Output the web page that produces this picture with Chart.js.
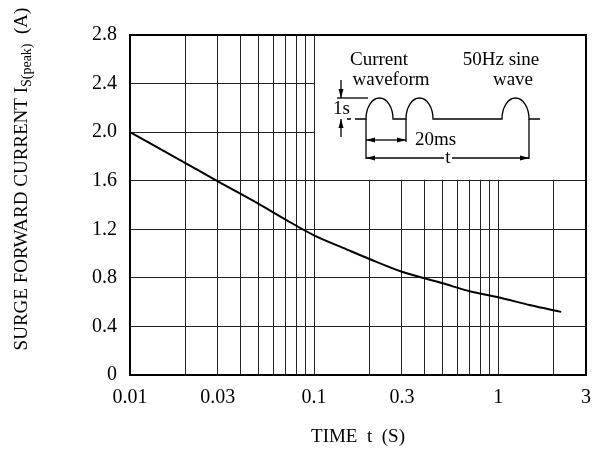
<!DOCTYPE html>
<html>
<head>
<meta charset="utf-8">
<script src="https://cdn.jsdelivr.net/npm/chart.js@4.4.0/dist/chart.umd.min.js"></script>
<style>
  html, body { margin: 0; padding: 0; background: #fff; }
  #wrap { width: 613px; height: 455px; }
</style>
</head>
<body>
<div id="wrap"><canvas id="surge-chart"></canvas></div>
<script>
// data
const timeS = [0.01, 0.02, 0.03, 0.05, 0.07, 0.1, 0.15, 0.2, 0.3, 0.5, 0.7, 1, 1.5, 2.2];
const surgeA = [2.0, 1.745, 1.595, 1.41, 1.28, 1.15, 1.035, 0.955, 0.85, 0.755, 0.69, 0.64, 0.575, 0.52];

const xGridTicks = [0.01, 0.02, 0.03, 0.04, 0.05, 0.06, 0.07, 0.08, 0.09,
                    0.1, 0.2, 0.3, 0.4, 0.5, 0.6, 0.7, 0.8, 0.9, 1, 2, 3];
const xTickLabels = ['0.01', '0.03', '0.1', '0.3', '1', '3'];
const yTicks = [0, 0.4, 0.8, 1.2, 1.6, 2.0, 2.4, 2.8];

const SERIF = "'Liberation Serif', 'Times New Roman', serif";
Chart.defaults.font.family = SERIF;
Chart.defaults.font.size = 20;
Chart.defaults.color = '#000';

function arrow(ctx, x1, y1, x2, y2) {
  // line with a filled head at (x2, y2)
  const a = Math.atan2(y2 - y1, x2 - x1);
  ctx.beginPath();
  ctx.moveTo(x1, y1);
  ctx.lineTo(x2, y2);
  ctx.stroke();
  ctx.beginPath();
  ctx.moveTo(x2, y2);
  ctx.lineTo(x2 - 9 * Math.cos(a) + 2.5 * Math.sin(a), y2 - 9 * Math.sin(a) - 2.5 * Math.cos(a));
  ctx.lineTo(x2 - 9 * Math.cos(a) - 2.5 * Math.sin(a), y2 - 9 * Math.sin(a) + 2.5 * Math.cos(a));
  ctx.closePath();
  ctx.fill();
}

const decor = {
  id: 'decor',
  beforeDatasetsDraw(chart) {
    const { ctx, chartArea, scales } = chart;
    // blank box for the inset diagram
    const x0 = scales.x.getPixelForValue(0.1) + 1;
    const y1 = scales.y.getPixelForValue(1.6) - 1;
    ctx.save();
    ctx.fillStyle = '#fff';
    ctx.fillRect(x0, chartArea.top, chartArea.right - x0, y1 - chartArea.top);
    ctx.restore();
  },
  afterDraw(chart) {
    const { ctx, chartArea } = chart;
    const L = chartArea.left, T = chartArea.top;
    ctx.save();
    ctx.strokeStyle = '#000';
    ctx.fillStyle = '#000';

    // frame
    ctx.lineWidth = 2;
    ctx.strokeRect(chartArea.left, chartArea.top, chartArea.right - chartArea.left, chartArea.bottom - chartArea.top);

    // axis titles
    ctx.font = '19px ' + SERIF;
    ctx.textBaseline = 'middle';
    ctx.textAlign = 'center';
    ctx.fillText('TIME  t  (S)', (chartArea.left + chartArea.right) / 2, 437);

    const partA = 'SURGE FORWARD CURRENT I';
    const partSub = 'S(peak)';
    const partB = '  (A)';
    ctx.font = '19px ' + SERIF;
    const wA = ctx.measureText(partA).width;
    const wB = ctx.measureText(partB).width;
    ctx.font = '14px ' + SERIF;
    const wS = ctx.measureText(partSub).width;
    const total = wA + wS + wB;
    ctx.translate(20, 179);
    ctx.rotate(-Math.PI / 2);
    ctx.textAlign = 'left';
    ctx.textBaseline = 'alphabetic';
    let px = -total / 2;
    ctx.font = '19px ' + SERIF;
    ctx.fillText(partA, px, 7);
    px += wA;
    ctx.font = '14px ' + SERIF;
    ctx.fillText(partSub, px, 11);
    px += wS;
    ctx.font = '19px ' + SERIF;
    ctx.fillText(partB, px, 7);
    ctx.setTransform(1, 0, 0, 1, 0, 0);
    ctx.restore();

    // inset: current waveform sketch
    ctx.save();
    ctx.strokeStyle = '#000';
    ctx.fillStyle = '#000';
    ctx.lineWidth = 1.3;
    const base = T + 84;       // waveform baseline
    const h = 21, w = 27;
    const humps = [L + 236, L + 276, L + 372];  // left edges of the humps
    ctx.beginPath();
    ctx.moveTo(L + 217, base);
    ctx.lineTo(L + 221, base);
    ctx.moveTo(L + 225, base);
    humps.forEach(hx => {
      ctx.lineTo(hx, base);
      ctx.ellipse(hx + w / 2, base, w / 2, h, 0, Math.PI, 2 * Math.PI);
    });
    ctx.lineTo(L + 410, base);
    ctx.stroke();

    // 1s marker
    ctx.beginPath();
    ctx.moveTo(L + 207, base - h);
    ctx.lineTo(humps[0] + 2, base - h);
    ctx.stroke();
    arrow(ctx, L + 211, base - h - 18, L + 211, base - h);
    arrow(ctx, L + 211, base + 18, L + 211, base);

    // extension lines
    ctx.beginPath();
    ctx.moveTo(humps[0], base); ctx.lineTo(humps[0], base + 40);
    ctx.moveTo(humps[1], base); ctx.lineTo(humps[1], base + 23);
    ctx.moveTo(humps[2] + w, base); ctx.lineTo(humps[2] + w, base + 40);
    ctx.stroke();

    // 20ms and t dimensions
    const y20 = base + 21, yt = base + 39;
    arrow(ctx, (humps[0] + humps[1]) / 2, y20, humps[0], y20);
    arrow(ctx, (humps[0] + humps[1]) / 2, y20, humps[1], y20);
    arrow(ctx, (humps[0] + humps[2] + w) / 2, yt, humps[0], yt);
    arrow(ctx, (humps[0] + humps[2] + w) / 2, yt, humps[2] + w, yt);

    ctx.font = '19px ' + SERIF;
    ctx.textBaseline = 'middle';
    ctx.textAlign = 'left';
    ctx.fillText('1s', L + 203, base - 10);
    ctx.fillText('20ms', L + 285, y20);
    ctx.textAlign = 'center';
    ctx.fillStyle = '#fff';
    ctx.fillRect(L + 314, yt - 8, 8, 10);
    ctx.fillStyle = '#000';
    ctx.fillText('t', L + 318, yt);
    ctx.fillText('Current', L + 249, T + 25);
    ctx.fillText('waveform', L + 261, T + 45);
    ctx.fillText('50Hz sine', L + 371, T + 25);
    ctx.fillText('wave', L + 383, T + 45);
    ctx.restore();
  }
};

const ctx = document.getElementById('surge-chart');

new Chart(ctx, {
  type: 'line',
  data: {
    datasets: [{
      data: timeS.map((t, i) => ({ x: t, y: surgeA[i] })),
      borderColor: '#000',
      borderWidth: 2,
      pointRadius: 0,
      cubicInterpolationMode: 'monotone',
      fill: false
    }]
  },
  plugins: [decor],
  options: {
    responsive: true,
    maintainAspectRatio: false,
    animation: false,
    events: [],
    layout: {
      padding: { top: 35, right: 27, left: 0, bottom: 0 }
    },
    plugins: {
      legend: { display: false },
      tooltip: { enabled: false }
    },
    scales: {
      x: {
        type: 'logarithmic',
        min: 0.01,
        max: 3,
        afterBuildTicks: (scale) => {
          scale.ticks = xGridTicks.map(v => ({ value: v }));
        },
        afterFit: (scale) => { scale.height = 80; },
        ticks: {
          autoSkip: false,
          maxRotation: 0,
          padding: 11,
          callback: (v) => xTickLabels.includes(String(v)) ? String(v) : ''
        },
        grid: { color: '#222', lineWidth: 1, drawTicks: false },
        border: { display: false }
      },
      y: {
        min: 0,
        max: 2.8,
        afterBuildTicks: (scale) => {
          scale.ticks = yTicks.map(v => ({ value: v }));
        },
        afterFit: (scale) => { scale.width = 130; },
        ticks: {
          padding: 13,
          callback: (v) => v === 0 ? '0' : v.toFixed(1)
        },
        grid: { color: '#222', lineWidth: 1, drawTicks: false },
        border: { display: false }
      }
    }
  }
});
</script>
</body>
</html>
